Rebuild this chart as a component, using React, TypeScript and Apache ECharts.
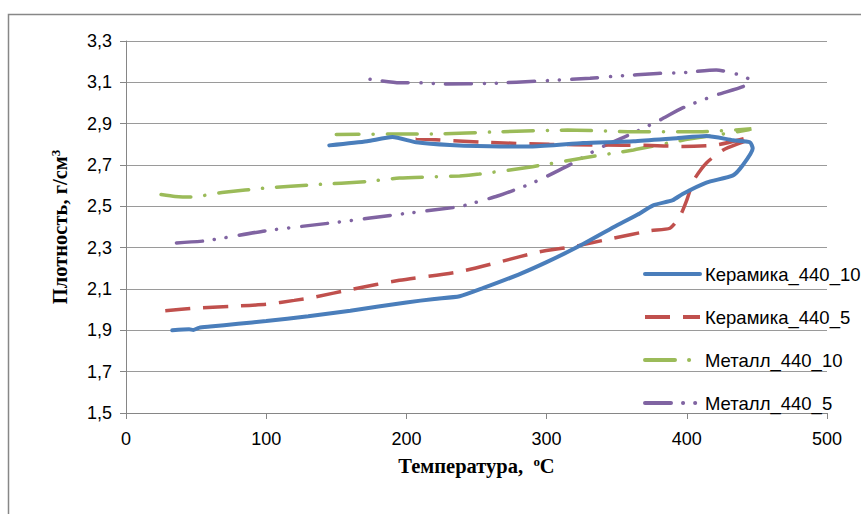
import React, { useEffect, useRef } from "react";
import * as echarts from "echarts";

// [Температура °C, Плотность г/см3]
const ceramic440_10: number[][] = [
  [33, 1.900], [45, 1.905], [48, 1.902], [52, 1.912], [60, 1.918], [80, 1.932], [100, 1.945],
  [130, 1.968], [160, 1.995], [200, 2.035], [220, 2.052], [238, 2.065], [255, 2.105],
  [280, 2.17], [300, 2.23], [324, 2.31], [348, 2.40], [365, 2.46], [376, 2.505],
  [390, 2.53], [397, 2.56], [414, 2.615], [433, 2.65], [440, 2.70], [447, 2.78],
  [445, 2.81], [433, 2.82], [414, 2.84], [393, 2.83], [362, 2.815], [326, 2.806],
  [290, 2.79], [267, 2.79], [231, 2.797], [207, 2.81], [190, 2.835], [172, 2.815], [145, 2.795],
];
const ceramic440_5: number[][] = [
  [28, 1.995], [50, 2.008], [81, 2.018], [100, 2.026], [120, 2.045], [134, 2.06],
  [162, 2.10], [195, 2.142], [238, 2.184], [267, 2.232], [295, 2.28], [319, 2.305],
  [347, 2.345], [374, 2.382], [388, 2.394], [395, 2.45], [400, 2.53], [405, 2.627],
  [414, 2.71], [426, 2.773], [443, 2.82], [445, 2.835], [421, 2.797], [397, 2.79],
  [370, 2.795], [338, 2.797], [302, 2.80], [255, 2.81], [207, 2.827], [200, 2.83],
];
const metal440_10: number[][] = [
  [25, 2.557], [35, 2.548], [46, 2.545], [70, 2.568], [100, 2.589], [135, 2.605],
  [172, 2.62], [195, 2.637], [238, 2.647], [252, 2.656], [290, 2.692], [326, 2.734],
  [362, 2.773], [397, 2.82], [421, 2.845], [443, 2.869], [446, 2.875], [409, 2.861],
  [362, 2.861], [315, 2.869], [267, 2.861], [219, 2.85], [195, 2.85], [150, 2.848],
];
const metal440_5: number[][] = [
  [36, 2.323], [58, 2.334], [100, 2.382], [148, 2.421], [200, 2.466], [238, 2.498],
  [243, 2.507], [265, 2.55], [290, 2.613], [314, 2.692], [338, 2.782], [362, 2.855],
  [381, 2.918], [397, 2.976], [421, 3.039], [440, 3.079], [445, 3.111], [438, 3.135],
  [421, 3.16], [397, 3.147], [379, 3.143], [350, 3.13], [331, 3.12], [297, 3.107],
  [260, 3.095], [229, 3.092], [207, 3.098], [195, 3.098], [174, 3.115],
];

const seriesNames = ["Керамика_440_10", "Керамика_440_5", "Металл_440_10", "Металл_440_5"];
const seriesColors = ["#4A7EBB", "#C0504D", "#9BBB59", "#8064A2"];

const SANS = "'Liberation Sans', Arial, sans-serif";
const SERIF = "'Liberation Serif', 'Times New Roman', serif";

export default function App() {
  const ref = useRef<HTMLDivElement>(null);
  useEffect(() => {
    if (!ref.current) return;
    const chart = echarts.init(ref.current, undefined, { renderer: "svg" });
    const lineStyles: any[] = [
      { width: 4, type: "solid", cap: "round" },
      { width: 3.5, type: [25, 13], cap: "butt" },
      { width: 3.5, type: [30, 14, 0.1, 14], cap: "round" },
      { width: 3.5, type: [26, 12, 0.1, 12, 0.1, 13], cap: "round" },
    ];
    const datasets = [ceramic440_10, ceramic440_5, metal440_10, metal440_5];
    const titleStyle = {
      fontFamily: SERIF,
      fontWeight: "bold",
      fontSize: 20.5,
      color: "#000",
      rich: {
        sup: { fontFamily: SERIF, fontWeight: "bold", fontSize: 13, verticalAlign: "top", lineHeight: 22, color: "#000" },
      },
    };
    chart.setOption({
      animation: false,
      backgroundColor: "#ffffff",
      graphic: [
        {
          type: "rect",
          shape: { x: 8.5, y: 14.5, width: 900, height: 600 },
          style: { fill: "none", stroke: "#878787", lineWidth: 1.5 },
          silent: true,
        },
      ],
      grid: { left: 126, right: 34, top: 41, bottom: 101, containLabel: false },
      legend: {
        orient: "vertical",
        left: 638,
        top: 259,
        itemWidth: 55,
        itemHeight: 10,
        itemGap: 23,
        itemStyle: { opacity: 0 },
        lineStyle: { width: 4 },
        textStyle: { fontFamily: SANS, fontSize: 18.5, color: "#000", lineHeight: 20 },
        data: seriesNames,
      },
      xAxis: {
        type: "value",
        min: 0,
        max: 500,
        interval: 100,
        name: "Температура,  {sup|o}C",
        nameLocation: "middle",
        nameGap: 42,
        nameTextStyle: titleStyle,
        axisLine: { show: true, lineStyle: { color: "#868686", width: 1 } },
        axisTick: { show: true, length: 6, lineStyle: { color: "#868686" } },
        axisLabel: { fontFamily: SANS, fontSize: 18, color: "#000", margin: 17 },
        splitLine: { show: false },
      },
      yAxis: {
        type: "value",
        min: 1.5,
        max: 3.3,
        interval: 0.2,
        name: "Плотность, г/см{sup|3}",
        nameLocation: "middle",
        nameRotate: 90,
        nameGap: 55,
        nameTextStyle: titleStyle,
        axisLine: { show: true, lineStyle: { color: "#868686", width: 1 } },
        axisTick: { show: true, length: 6, lineStyle: { color: "#868686" } },
        axisLabel: {
          fontFamily: SANS,
          fontSize: 18,
          color: "#000",
          margin: 14,
          formatter: (v: number) => v.toFixed(1).replace(".", ","),
        },
        splitLine: { show: true, lineStyle: { color: "#9a9a9a", width: 1 } },
      },
      series: datasets.map((d, i) => ({
        name: seriesNames[i],
        type: "line",
        data: d,
        showSymbol: false,
        symbol: "none",
        smooth: 0.2,
        color: seriesColors[i],
        lineStyle: { color: seriesColors[i], ...lineStyles[i] },
        z: 10 - i,
      })),
    });
    return () => chart.dispose();
  }, []);
  return (
    <div
      ref={ref}
      style={{ position: "fixed", left: 0, top: 0, width: 861, height: 514, background: "#fff" }}
    />
  );
}
